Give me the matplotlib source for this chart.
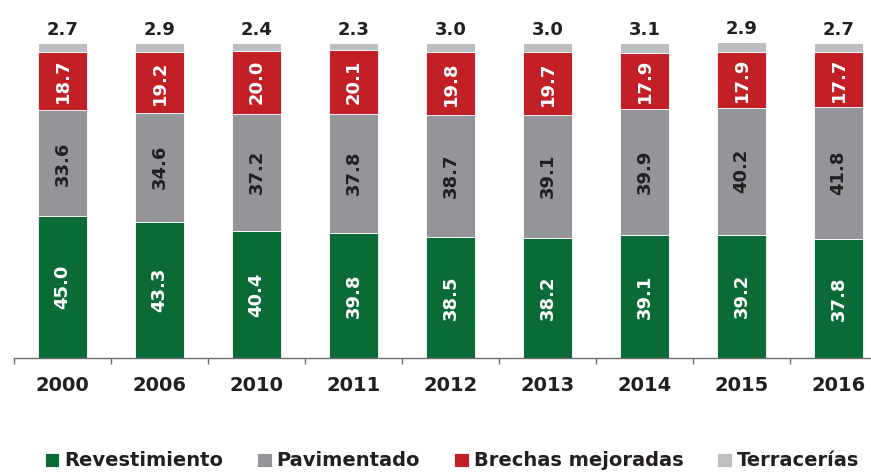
import matplotlib.pyplot as plt
from matplotlib.ticker import FixedLocator

years = ['2000', '2006', '2010', '2011', '2012', '2013', '2014', '2015', '2016']
revestimiento = [45.0, 43.3, 40.4, 39.8, 38.5, 38.2, 39.1, 39.2, 37.8]
pavimentado = [33.6, 34.6, 37.2, 37.8, 38.7, 39.1, 39.9, 40.2, 41.8]
brechas = [18.7, 19.2, 20.0, 20.1, 19.8, 19.7, 17.9, 17.9, 17.7]
terracerias = [2.7, 2.9, 2.4, 2.3, 3.0, 3.0, 3.1, 2.9, 2.7]

series = [
    ('Revestimiento', revestimiento, '#0b6b37', 'white'),
    ('Pavimentado', pavimentado, '#939598', '#231f20'),
    ('Brechas mejoradas', brechas, '#c21f26', 'white'),
    ('Terracerías', terracerias, '#bcbec0', None),
]

txt = '#231f20'
plt.rcParams['font.family'] = ['DejaVu Sans']

fig = plt.figure(figsize=(8.71, 4.72), dpi=100)
# axes: left edge at 14px, baseline at y=358px, 100% at y=43px
ax = fig.add_axes([14 / 871, (472 - 358) / 472, 857 / 871, 315 / 472])

x = list(range(len(years)))
bottom = [0.0] * len(years)
for name, vals, color, lab_color in series:
    bars = ax.bar(x, vals, width=0.5, bottom=bottom, color=color,
                  edgecolor='white', linewidth=0.6, label=name)
    for i, (b, v) in enumerate(zip(bottom, vals)):
        if lab_color is not None:
            ax.text(i, b + v / 2, f'{v:.1f}', rotation=90, ha='center', va='center',
                    color=lab_color, fontsize=13, fontweight='heavy')
        else:
            ax.annotate(f'{v:.1f}', (i, b + v), xytext=(0, 3), textcoords='offset points',
                        ha='center', va='bottom', color=txt, fontsize=13,
                        fontweight='heavy', annotation_clip=False)
    bottom = [b + v for b, v in zip(bottom, vals)]

ax.set_xlim(-0.5, -0.5 + 857 / 97)
ax.set_ylim(0, 100)

for s in ['top', 'right', 'left']:
    ax.spines[s].set_visible(False)
ax.spines['bottom'].set_color('#6d6e71')
ax.spines['bottom'].set_linewidth(1.0)
ax.set_yticks([])

ax.set_xticks(x)
ax.set_xticklabels(years, fontsize=14, fontweight='heavy', color=txt)
ax.tick_params(axis='x', which='major', length=0, pad=13)
ax.xaxis.set_minor_locator(FixedLocator([i - 0.5 for i in range(len(years))]))
ax.tick_params(axis='x', which='minor', length=4.5, width=1.0, color='#6d6e71', direction='out')

fig.legend(loc='center', bbox_to_anchor=(452 / 871, (472 - 461) / 472), ncol=4,
           frameon=False, handlelength=0.75, handleheight=0.75, handletextpad=0.25,
           columnspacing=1.75, prop={'size': 14, 'weight': 'heavy'},
           labelcolor=txt, borderaxespad=0)

fig.savefig('out.png', dpi=100)
